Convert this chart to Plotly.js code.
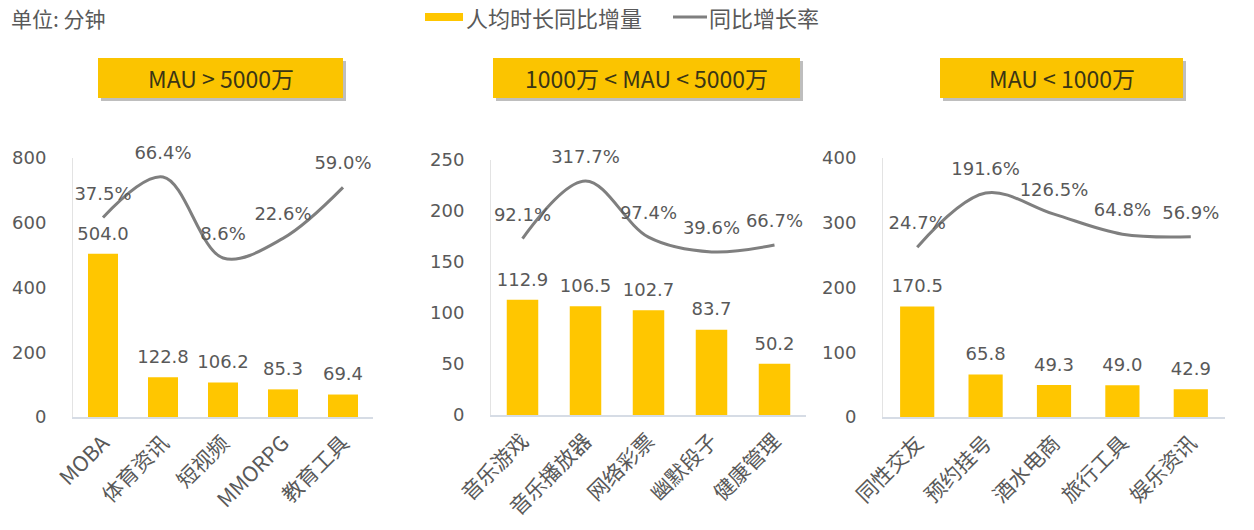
<!DOCTYPE html>
<html>
<head>
<meta charset="utf-8">
<script src="https://cdn.plot.ly/plotly-3.0.1.min.js"></script>
<style>
  html, body { margin: 0; padding: 0; background: #ffffff; }
  #chart { width: 1254px; height: 530px; }
</style>
</head>
<body>
<div id="chart"></div>
<script>
// ---- data ----
const cats1 = ['MOBA', '体育资讯', '短视频', 'MMORPG', '教育工具'];
const inc1 = [504.0, 122.8, 106.2, 85.3, 69.4];
const rate1 = [37.5, 66.4, 8.6, 22.6, 59.0];

const cats2 = ['音乐游戏', '音乐播放器', '网络彩票', '幽默段子', '健康管理'];
const inc2 = [112.9, 106.5, 102.7, 83.7, 50.2];
const rate2 = [92.1, 317.7, 97.4, 39.6, 66.7];

const cats3 = ['同性交友', '预约挂号', '酒水电商', '旅行工具', '娱乐资讯'];
const inc3 = [170.5, 65.8, 49.3, 49.0, 42.9];
const rate3 = [24.7, 191.6, 126.5, 64.8, 56.9];

const panelTitles = ['MAU > 5000万', '1000万 < MAU < 5000万', 'MAU < 1000万'];
const legendNames = ['人均时长同比增量', '同比增长率'];
const unitText = '单位: 分钟';

// ---- styling ----
const W = 1254, H = 530;
const px = x => x / W;
const py = y => 1 - y / H;
const BAR = '#FFC600';
const LINE = '#7F7F7F';
const TXT = '#595959';
const NUMFONT = 'DejaVu Sans, Noto Sans CJK SC, sans-serif';
const CJKFONT = 'Noto Sans CJK SC, DejaVu Sans, sans-serif';

const panels = [
  {cats: cats1, inc: inc1, rate: rate1, xa: 'x', ya: 'y', ya2: 'y4'},
  {cats: cats2, inc: inc2, rate: rate2, xa: 'x2', ya: 'y2', ya2: 'y5'},
  {cats: cats3, inc: inc3, rate: rate3, xa: 'x3', ya: 'y3', ya2: 'y6'}
];

const traces = [];
panels.forEach((p, i) => {
  traces.push({
    type: 'bar', x: p.cats, y: p.inc, xaxis: p.xa, yaxis: p.ya,
    name: legendNames[0], showlegend: false,
    marker: {color: BAR}, width: 0.5, hoverinfo: 'x+y'
  });
  // bar value labels (text-only layer with a small offset above each bar)
  traces.push({
    type: 'scatter', mode: 'markers+text', x: p.cats, y: p.inc,
    xaxis: p.xa, yaxis: p.ya, showlegend: false, hoverinfo: 'skip',
    marker: {size: 14, color: 'rgba(0,0,0,0)'},
    text: p.inc.map(v => v.toFixed(1)), textposition: 'top center',
    textfont: {family: NUMFONT, size: 18, color: TXT}, cliponaxis: false
  });
  traces.push({
    type: 'scatter', mode: 'lines+markers+text', x: p.cats, y: p.rate,
    xaxis: p.xa, yaxis: p.ya2, name: legendNames[1], showlegend: false,
    line: {color: LINE, width: 3, shape: 'spline', smoothing: 1},
    marker: {size: 20, color: 'rgba(0,0,0,0)'},
    text: p.rate.map(v => v.toFixed(1) + '%'), textposition: 'top center',
    textfont: {family: NUMFONT, size: 18, color: TXT},
    cliponaxis: false
  });
});

const xCommon = {
  type: 'category', showline: true, linecolor: '#D6DCE5', linewidth: 1.5,
  showgrid: false, zeroline: false, ticks: '', tickangle: -45, ticklabelstandoff: 4,
  tickfont: {family: CJKFONT, size: 21, color: TXT}, fixedrange: true
};
const yCommon = {
  showline: true, linecolor: '#E3E3E3', linewidth: 1, showgrid: false,
  zeroline: false, ticks: '', ticklabelstandoff: 22,
  tickfont: {family: NUMFONT, size: 18, color: TXT}, fixedrange: true
};

const d1 = [px(73), px(373)];
const d2 = [px(491), px(806)];
const d3 = [px(883), px(1225)];
const yd1 = [py(417), py(158)];
const yd2 = [py(415), py(160)];

const layout = {
  width: W, height: H,
  margin: {l: 0, r: 0, t: 0, b: 0},
  paper_bgcolor: '#ffffff', plot_bgcolor: 'rgba(0,0,0,0)',
  showlegend: false,
  xaxis: Object.assign({}, xCommon, {domain: d1, anchor: 'y'}),
  xaxis2: Object.assign({}, xCommon, {domain: d2, anchor: 'y2'}),
  xaxis3: Object.assign({}, xCommon, {domain: d3, anchor: 'y3'}),
  yaxis: Object.assign({}, yCommon, {domain: yd1, anchor: 'x', range: [0, 800], dtick: 200}),
  yaxis2: Object.assign({}, yCommon, {domain: yd2, anchor: 'x2', range: [0, 250], dtick: 50}),
  yaxis3: Object.assign({}, yCommon, {domain: yd1, anchor: 'x3', range: [0, 400], dtick: 100}),
  yaxis4: {overlaying: 'y', anchor: 'x', range: [-105, 80], visible: false, fixedrange: true},
  yaxis5: {overlaying: 'y2', anchor: 'x2', range: [-600, 400], visible: false, fixedrange: true},
  yaxis6: {overlaying: 'y3', anchor: 'x3', range: [-500, 300], visible: false, fixedrange: true},
  shapes: [],
  annotations: []
};

// unit text
layout.annotations.push({
  xref: 'paper', yref: 'paper', x: px(9), y: py(18), xanchor: 'left', yanchor: 'middle',
  text: unitText, showarrow: false, font: {family: CJKFONT, size: 21, color: TXT}
});

// custom legend
layout.shapes.push({type: 'rect', xref: 'paper', yref: 'paper', x0: px(425), x1: px(463), y0: py(21), y1: py(13),
  fillcolor: BAR, line: {width: 0}});
layout.annotations.push({
  xref: 'paper', yref: 'paper', x: px(464), y: py(17), xanchor: 'left', yanchor: 'middle',
  text: legendNames[0], showarrow: false, font: {family: CJKFONT, size: 22, color: TXT}
});
layout.shapes.push({type: 'line', xref: 'paper', yref: 'paper', x0: px(673), x1: px(707), y0: py(17), y1: py(17),
  line: {color: LINE, width: 3}});
layout.annotations.push({
  xref: 'paper', yref: 'paper', x: px(707), y: py(17), xanchor: 'left', yanchor: 'middle',
  text: legendNames[1], showarrow: false, font: {family: CJKFONT, size: 22, color: TXT}
});

// panel title boxes
const boxes = [[98, 343], [493, 800], [940, 1183]];
boxes.forEach((b, i) => {
  layout.shapes.push({type: 'rect', xref: 'paper', yref: 'paper',
    x0: px(b[0] + 3), x1: px(b[1] + 3), y0: py(101), y1: py(61),
    fillcolor: 'rgba(110,110,110,0.45)', line: {width: 0}});
  layout.shapes.push({type: 'rect', xref: 'paper', yref: 'paper',
    x0: px(b[0]), x1: px(b[1]), y0: py(98), y1: py(58),
    fillcolor: '#FBC400', line: {width: 0}});
  layout.annotations.push({
    xref: 'paper', yref: 'paper', x: px((b[0] + b[1]) / 2), y: py(78), xanchor: 'center', yanchor: 'middle',
    text: panelTitles[i], showarrow: false, font: {family: CJKFONT, size: 23, color: '#3A3515'}
  });
});

Plotly.newPlot('chart', traces, layout, {staticPlot: true, displayModeBar: false});
</script>
</body>
</html>
